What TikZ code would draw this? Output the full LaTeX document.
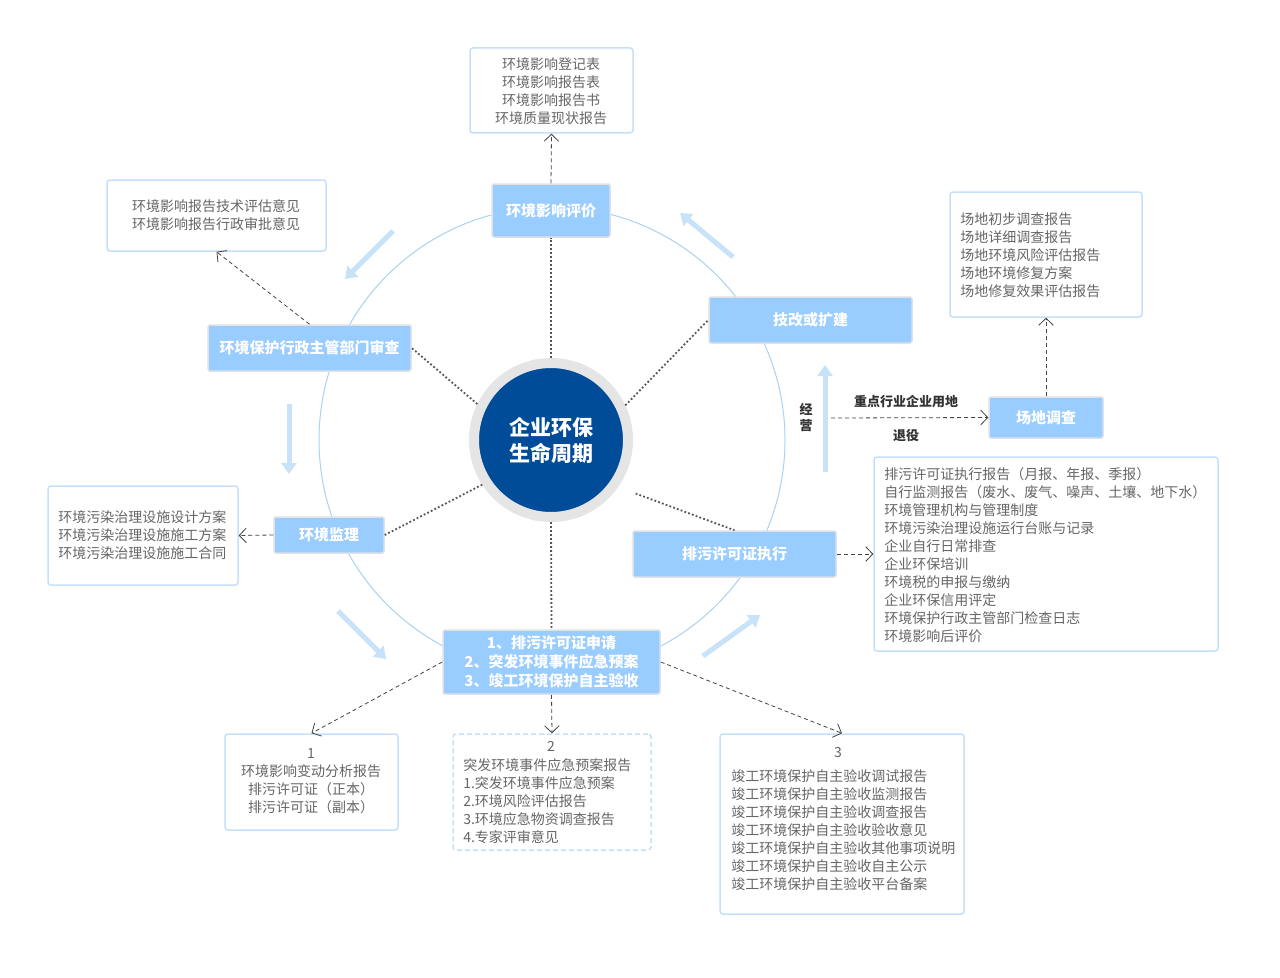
\documentclass[tikz,border=0pt]{standalone}
\usepackage{fontspec}
\setmainfont{Noto Sans CJK SC}
\usetikzlibrary{arrows.meta}
\newdimen\pxu \pxu=0.75pt
\definecolor{boxblue}{RGB}{153,204,255}
\definecolor{stageborder}{RGB}{222,226,230}
\definecolor{docborder}{RGB}{198,224,250}
\definecolor{docgray}{RGB}{102,102,102}
\definecolor{ringline}{RGB}{170,210,245}
\definecolor{flowblue}{RGB}{200,226,250}
\definecolor{coreblue}{RGB}{0,76,153}
\definecolor{ringgray}{RGB}{229,229,229}
\definecolor{linkgray}{RGB}{68,68,68}
\definecolor{dotgray}{RGB}{85,85,85}
\definecolor{labeldark}{RGB}{51,51,51}
\begin{document}
\begin{tikzpicture}[x=0.75pt,y=-0.75pt,
  stage/.style={fill=boxblue, draw=stageborder, line width=1.5\pxu, rounded corners=2\pxu, text=white, font=\bfseries\fontsize{11.25}{14.25}\selectfont, inner sep=0, align=center},
  doc/.style={fill=white, draw=docborder, line width=1.5\pxu, rounded corners=3\pxu, inner sep=0},
  doctext/.style={text=docgray, font=\fontsize{10.5}{13.5}\selectfont, inner sep=0},
  smalllabel/.style={text=labeldark, font=\bfseries\fontsize{9.75}{12}\selectfont, inner sep=0, align=center},
  dashlink/.style={draw=linkgray, line width=0.6pt, dash pattern=on 3pt off 2.25pt, -{Straight Barb[length=5.25pt,width=11pt]}},
  dotlink/.style={draw=dotgray, line width=1.35pt, dash pattern=on 1.35pt off 1.65pt},
  flow/.style={draw=flowblue, line width=3.75pt, -{Triangle[length=8.25pt,width=11.25pt]}},
]
\useasboundingbox[fill=white] (0,0) rectangle (1280,977);

% cycle ring
\draw[ringline, line width=1\pxu] (552,440) circle[radius=233\pxu];

% flow arrows
\coordinate (f1a) at (733,257); \coordinate (f1b) at (680,213);
\coordinate (f2a) at (393,231); \coordinate (f2b) at (345,279);
\coordinate (f3a) at (289,404); \coordinate (f3b) at (289,474);
\coordinate (f4a) at (338,611); \coordinate (f4b) at (386,659);
\coordinate (f5a) at (703,656); \coordinate (f5b) at (760,615);
\coordinate (f6a) at (825,472); \coordinate (f6b) at (825,365);
\draw[flow] (f1a) -- (f1b);
\draw[flow] (f2a) -- (f2b);
\draw[flow] (f3a) -- (f3b);
\draw[flow] (f4a) -- (f4b);
\draw[flow] (f5a) -- (f5b);
\draw[flow] (f6a) -- (f6b);

% core
\node[circle, fill=coreblue, draw=ringgray, line width=10\pxu, minimum size=154\pxu, inner sep=0, text=white, font=\bfseries\fontsize{15.75}{19.5}\selectfont, align=center] (core) at (551,440) {企业环保\\生命周期};

% stages
\node[stage, minimum width=118\pxu, minimum height=53\pxu] (pingjia) at (551,210.5) {环境影响评价};
\node[stage, minimum width=203\pxu, minimum height=46\pxu] (jigai) at (810.5,320) {技改或扩建};
\node[stage, minimum width=203\pxu, minimum height=46\pxu] (audit) at (309.5,348) {环境保护行政主管部门审查};
\node[stage, minimum width=110\pxu, minimum height=36\pxu] (jianli) at (329,535) {环境监理};
\node[stage, minimum width=203\pxu, minimum height=46\pxu] (paiwu) at (734.5,554) {排污许可证执行};
\node[stage, minimum width=217\pxu, minimum height=64\pxu] (bottom) at (551.5,662) {1、排污许可证申请\\2、突发环境事件应急预案\\3、竣工环境保护自主验收};
\node[stage, minimum width=114\pxu, minimum height=41\pxu] (changdi) at (1046,417.5) {场地调查};

% document boxes
\node[doc, minimum width=163\pxu, minimum height=85\pxu] (docA) at (551.5,90.5) {};
\node[doc, minimum width=219\pxu, minimum height=71\pxu] (docB) at (216.5,215.5) {};
\node[doc, minimum width=192\pxu, minimum height=125\pxu] (docC) at (1046,254.5) {};
\node[doc, minimum width=190\pxu, minimum height=99\pxu] (docD) at (143,535.5) {};
\node[doc, minimum width=344\pxu, minimum height=194\pxu] (docE) at (1046,554) {};
\node[doc, minimum width=173\pxu, minimum height=96\pxu] (docF) at (311.5,782) {};
\node[doc, dash pattern=on 3.75pt off 2.25pt, minimum width=198\pxu, minimum height=116\pxu] (docG) at (552,792) {};
\node[doc, minimum width=244\pxu, minimum height=180\pxu] (docH) at (842,824) {};

% document texts
\node[doctext, align=center] (txtA) at (551,91) {环境影响登记表\\环境影响报告表\\环境影响报告书\\环境质量现状报告};
\node[doctext, align=center] (txtB) at (216,215) {环境影响报告技术评估意见\\环境影响报告行政审批意见};
\node[doctext, align=left, anchor=west] (txtC) at (960,255) {场地初步调查报告\\场地详细调查报告\\场地环境风险评估报告\\场地环境修复方案\\场地修复效果评估报告};
\node[doctext, align=left, anchor=west] (txtD) at (58,535) {环境污染治理设施设计方案\\环境污染治理设施施工方案\\环境污染治理设施施工合同};
\node[doctext, align=left, anchor=west] (txtE) at (884,555) {排污许可证执行报告（月报、年报、季报）\\自行监测报告（废水、废气、噪声、土壤、地下水）\\环境管理机构与管理制度\\环境污染治理设施运行台账与记录\\企业自行日常排查\\企业环保培训\\环境税的申报与缴纳\\企业环保信用评定\\环境保护行政主管部门检查日志\\环境影响后评价};
\node[doctext, align=center] (txtF) at (311,781.5) {1\\环境影响变动分析报告\\排污许可证（正本）\\排污许可证（副本）};
\node[doctext] (numG) at (551,746) {2};
\node[doctext, align=left, anchor=west] (txtG) at (463,801) {突发环境事件应急预案报告\\1.突发环境事件应急预案\\2.环境风险评估报告\\3.环境应急物资调查报告\\4.专家评审意见};
\node[doctext] (numH) at (838,752) {3};
\node[doctext, align=left, anchor=west] (txtH) at (731,830) {竣工环境保护自主验收调试报告\\竣工环境保护自主验收监测报告\\竣工环境保护自主验收调查报告\\竣工环境保护自主验收验收意见\\竣工环境保护自主验收其他事项说明\\竣工环境保护自主验收自主公示\\竣工环境保护自主验收平台备案};

% labels
\node[smalllabel] (jingying) at (806,418) {经\\营};
\node[smalllabel] (zhongdian) at (906,402) {重点行业企业用地};
\node[smalllabel] (tuiyi) at (906,436) {退役};

% dotted links from core
\draw[dotlink] (core.90) -- (pingjia.south);
\draw[dotlink] (core.154) -- (audit.east);
\draw[dotlink] (core.25) -- (jigai.west);
\draw[dotlink] (core.213) -- (jianli.east);
\draw[dotlink, shorten <=14pt] (core.325) -- (paiwu.north);
\draw[dotlink] (core.270) -- (bottom.north);

% dashed links to documents
\coordinate (op) at (831,418);
\draw[dashlink] (pingjia.north) -- (docA.south);
\draw[dashlink] (audit.north) -- (docB.south);
\draw[dashlink] (jianli.west) -- (docD.east);
\draw[dashlink] (paiwu.east) -- (docE.west);
\draw[dashlink] (changdi.north) -- (docC.south);
\draw[dashlink] (op) -- (changdi.west);
\draw[dashlink] (bottom.south) -- (docG.north);
\draw[dashlink] (bottom.west) -- (docF.north);
\draw[dashlink] (bottom.east) -- (docH.north);
\end{tikzpicture}
\end{document}
